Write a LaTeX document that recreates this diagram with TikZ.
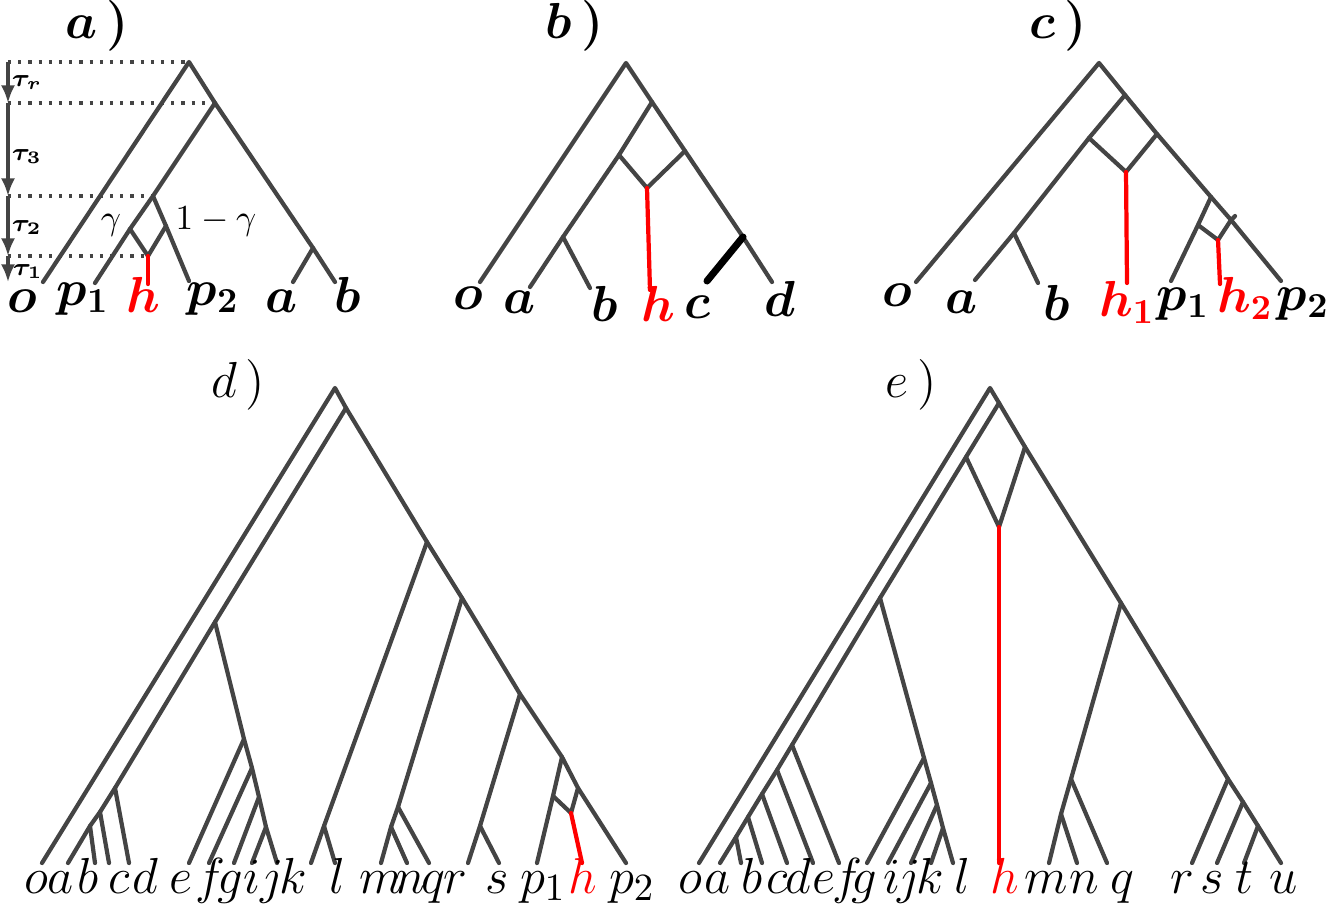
\documentclass[tikz,border=0pt]{standalone}
\usetikzlibrary{arrows.meta}
\begin{document}
\begin{tikzpicture}[x=0.01cm,y=-0.01cm,
 br/.style={line width=1.2pt,draw={rgb,255:red,68;green,68;blue,68},line cap=round,line join=round},
 rb/.style={line width=1.2pt,draw=red,line cap=round},
 lab/.style={anchor=base,inner sep=0pt,font=\fontsize{14}{16}\selectfont\boldmath},
 labd/.style={anchor=base,inner sep=0pt,font=\fontsize{15}{17}\selectfont},
 ttl/.style={anchor=base,inner sep=0pt,font=\fontsize{15}{17}\selectfont\boldmath},
 ttld/.style={anchor=base,inner sep=0pt,font=\fontsize{15}{17}\selectfont},
 tau/.style={anchor=base,inner sep=0pt,font=\fontsize{7}{8}\selectfont\boldmath},
 dot/.style={dotted,line width=0.9pt,draw={rgb,255:red,68;green,68;blue,68}},
 ar/.style={line width=0.9pt,draw={rgb,255:red,68;green,68;blue,68},-{Latex[length=5pt,width=4pt]}}]
\useasboundingbox (0,0) rectangle (1328,903);
% ---------- panel a
\node[ttl] (ta) at (97,38) {$a\,)$};
\coordinate (aR) at (189,62); \coordinate (a2) at (215,103); \coordinate (a3) at (153,196);
\coordinate (aL) at (130,229); \coordinate (aRr) at (166,226); \coordinate (aH) at (148,256);
\coordinate (aHe) at (148,284); \coordinate (aO) at (43,282); \coordinate (aP1) at (95,283);
\coordinate (aP2) at (189,281); \coordinate (aab) at (313,248); \coordinate (aA) at (293,282); \coordinate (aB) at (335,282);
\coordinate (x0) at (8,62); \coordinate (x1) at (8,103); \coordinate (x2) at (8,196); \coordinate (x3) at (8,256); \coordinate (x4) at (8,282);
\draw[dot] (x0)--(aR); \draw[dot] (x1)--(a2); \draw[dot] (x2)--(a3); \draw[dot] (x3)--(aH);
\draw[ar] (x0)--(x1); \draw[ar] (x1)--(x2); \draw[ar] (x2)--(x3); \draw[ar] (x3)--(x4);
\draw[br] (aO)--(aR)--(a2)--(aab)--(aB); \draw[br] (aab)--(aA);
\draw[br] (a2)--(a3)--(aL)--(aP1); \draw[br] (a3)--(aRr)--(aP2);
\draw[br] (aL)--(aH)--(aRr); \draw[rb] (aH)--(aHe);
\node[tau] at (27,86) {$\tau_r$}; \node[tau] at (27,160) {$\tau_3$};
\node[tau] at (27,231) {$\tau_2$}; \node[tau] at (28,275) {$\tau_1$};
\node[anchor=base,font=\fontsize{10}{12}\selectfont] at (111,229) {$\gamma$};
\node[anchor=base,font=\fontsize{10}{12}\selectfont] at (216,229) {$1-\gamma$};
\node[lab] at (22,312) {$o$}; \node[lab] at (83,305) {$p_1$}; \node[lab,red] at (143,312) {$h$};
\node[lab] at (213,305) {$p_2$}; \node[lab] at (282,312) {$a$}; \node[lab] at (348,312) {$b$};
% ---------- panel b
\node[ttl] (tb) at (575,38) {$b\,)$};
\coordinate (bR) at (626,63); \coordinate (b2) at (652,102); \coordinate (bL) at (619,155);
\coordinate (bRr) at (685,151); \coordinate (bH) at (647,188); \coordinate (bHe) at (650,290);
\coordinate (bO) at (480,282); \coordinate (bA) at (530,287); \coordinate (bab) at (563,237);
\coordinate (bB) at (590,288); \coordinate (bcd) at (743,237); \coordinate (bC) at (707,281); \coordinate (bD) at (772,282);
\draw[br] (bO)--(bR)--(b2)--(bRr)--(bcd)--(bD);
\draw[br] (b2)--(bL)--(bab)--(bA); \draw[br] (bab)--(bB);
\draw[br] (bL)--(bH)--(bRr); \draw[rb] (bH)--(bHe);
\draw[line width=2pt,line cap=round] (bcd)--(bC);
\node[lab] at (468,309) {$o$}; \node[lab] at (520,313) {$a$}; \node[lab] at (605,321) {$b$};
\node[lab,red] at (658,321) {$h$}; \node[lab] at (697,318) {$c$}; \node[lab] at (780,316) {$d$};
% ---------- panel c
\node[ttl] (tc) at (1058,38) {$c\,)$};
\coordinate (cR) at (1099,63); \coordinate (c2) at (1125,95); \coordinate (cL) at (1089,138);
\coordinate (cRr) at (1157,134); \coordinate (cH) at (1126,172); \coordinate (cHe) at (1127,283);
\coordinate (cO) at (916,282); \coordinate (cA) at (975,280); \coordinate (cab) at (1014,233); \coordinate (cB) at (1038,283);
\coordinate (cp) at (1211,197); \coordinate (cL2) at (1198,225); \coordinate (cR2) at (1231,220);
\coordinate (cH2) at (1218,240); \coordinate (cH2e) at (1220,284); \coordinate (cP1) at (1171,281); \coordinate (cP2) at (1281,281);
\draw[br] (cO)--(cR)--(c2)--(cRr)--(cp)--(cR2)--(cP2);
\draw[br] (c2)--(cL)--(cab)--(cA); \draw[br] (cab)--(cB);
\draw[br] (cL)--(cH)--(cRr); \draw[rb] (cH)--(cHe);
\draw[br] (cp)--(cL2)--(cP1); \draw[br] (cL2)--(cH2)--(cR2); \draw[br] (cR2)--(1235,216);
\draw[rb] (cH2)--(cH2e);
\node[lab] at (897,306) {$o$}; \node[lab] at (962,313) {$a$}; \node[lab] at (1057,320) {$b$};
\node[lab,red] at (1127,316) {$h_1$}; \node[lab] at (1183,310) {$p_1$};
\node[lab,red] at (1245,312) {$h_2$}; \node[lab] at (1303,310) {$p_2$};
% ---------- panel d
\node[ttld] (td) at (238,397) {$d\,)$};
\coordinate (dR) at (335,388); \coordinate (d2) at (346,408); \coordinate (dm1) at (427,542);
\coordinate (dm2) at (462,598); \coordinate (dm3) at (520,694); \coordinate (dm4) at (562,757); \coordinate (dm5) at (578,788);
\coordinate (dO) at (42,863); \coordinate (dP2) at (626,863);
\coordinate (dn) at (215,622); \coordinate (dnd) at (115,788); \coordinate (dnc) at (100,812); \coordinate (dnb) at (90,826);
\coordinate (dA) at (68,863); \coordinate (dB) at (95,863); \coordinate (dC) at (109,863); \coordinate (dD) at (129,863);
\draw[br] (dO)--(dR)--(d2)--(dm1)--(dm2)--(dm3)--(dm4)--(dm5)--(dP2);
\draw[br] (d2)--(dn)--(dnd)--(dnc)--(dnb)--(dA);
\draw[br] (dnd)--(dD); \draw[br] (dnc)--(dC); \draw[br] (dnb)--(dB);
\coordinate (de1) at (244,739); \coordinate (de2) at (252,768); \coordinate (de3) at (259,797); \coordinate (de4) at (266,827);
\draw[br] (dn)--(de1)--(de2)--(de3)--(de4)--(277,863) coordinate (dJ);
\draw[br] (de1)--(189,863); \draw[br] (de2)--(209,863); \draw[br] (de3)--(234,863); \draw[br] (de4)--(252,863);
\coordinate (dk) at (324,826);
\draw[br] (dm1)--(dk)--(311,863); \draw[br] (dk)--(335,863);
\coordinate (dq) at (398,807); \coordinate (dnn) at (391,827);
\draw[br] (dm2)--(dq)--(dnn)--(381,863); \draw[br] (dq)--(429,863); \draw[br] (dnn)--(407,863);
\coordinate (drs) at (480,826);
\draw[br] (dm3)--(drs)--(468,863); \draw[br] (drs)--(499,863);
\coordinate (dpl) at (553,796); \coordinate (dh) at (571,813);
\draw[br] (dm4)--(dpl)--(537,863); \draw[br] (dpl)--(dh)--(dm5); \draw[rb] (dh)--(582,863);
\foreach \t/\x in {o/36,a/61,b/88,c/119,d/145,e/181,f/210,g/230,i/252,j/272,k/293,l/337,m/381,n/410,q/433,r/455,s/497,p_1/543,p_2/632}
  \node[labd] at (\x,893) {$\t$};
\node[labd,red] at (583,893) {$h$};
% ---------- panel e
\node[ttld] (te) at (911,397) {$e\,)$};
\coordinate (eR) at (990,388); \coordinate (e2) at (999,403); \coordinate (eL) at (966,457);
\coordinate (eRr) at (1025,447); \coordinate (eH) at (999,527); \coordinate (eHe) at (999,863);
\coordinate (en) at (880,598); \coordinate (em) at (1121,603); \coordinate (eO) at (699,863); \coordinate (eU) at (1281,863);
\coordinate (ef) at (792,745); \coordinate (ee) at (777,770); \coordinate (ed) at (762,794); \coordinate (ec) at (748,817); \coordinate (eb) at (736,837);
\coordinate (er) at (1228,779); \coordinate (es) at (1243,802); \coordinate (et) at (1258,826);
\draw[br] (eO)--(eR)--(e2)--(eRr)--(em)--(er)--(es)--(et)--(eU);
\draw[br] (e2)--(eL)--(en)--(ef)--(ee)--(ed)--(ec)--(eb)--(720,863);
\draw[br] (ef)--(839,863); \draw[br] (ee)--(813,863); \draw[br] (ed)--(787,863); \draw[br] (ec)--(762,863); \draw[br] (eb)--(741,863);
\draw[br] (eL)--(eH)--(eRr); \draw[rb] (eH)--(eHe);
\coordinate (eg) at (924,758); \coordinate (ei) at (931,783); \coordinate (ej) at (937,805); \coordinate (ek) at (943,828);
\draw[br] (en)--(eg)--(ei)--(ej)--(ek)--(953,863);
\draw[br] (eg)--(867,863); \draw[br] (ei)--(888,863); \draw[br] (ej)--(911,863); \draw[br] (ek)--(931,863);
\coordinate (eq) at (1071,779); \coordinate (enn) at (1061,814);
\draw[br] (em)--(eq)--(enn)--(1049,863); \draw[br] (eq)--(1107,863); \draw[br] (enn)--(1077,863);
\draw[br] (er)--(1192,863); \draw[br] (es)--(1217,863); \draw[br] (et)--(1244,863);
\foreach \t/\x in {o/690,a/718,b/752,c/777,d/798,e/824,f/847,g/864,i/892,j/909,k/930,l/962,m/1046,n/1084,q/1122,r/1182,s/1212,t/1244,u/1284}
  \node[labd] at (\x,893) {$\t$};
\node[labd,red] at (1005,893) {$h$};
\end{tikzpicture}
\end{document}
